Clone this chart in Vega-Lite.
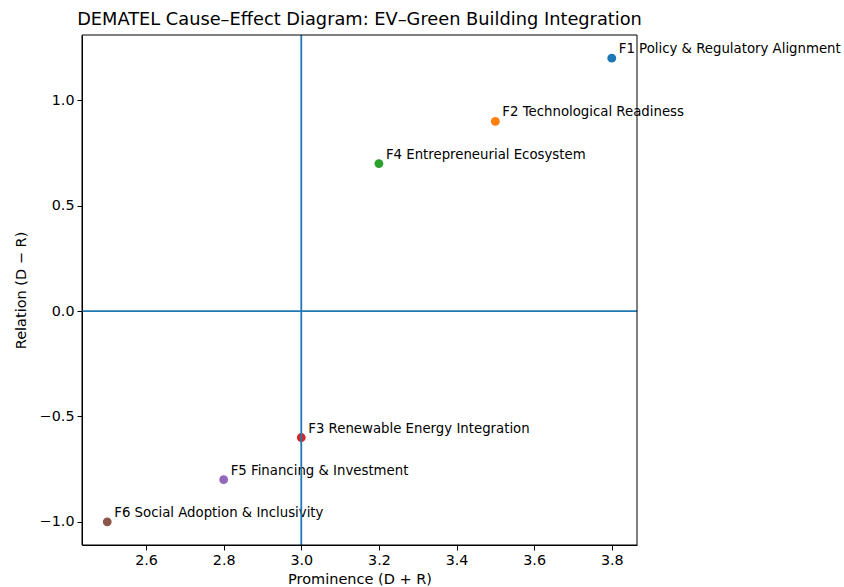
{
  "$schema": "https://vega.github.io/schema/vega-lite/v6.json",
  "width": 555,
  "height": 510,
  "autosize": "none",
  "padding": {"left": 82, "top": 35, "right": 207, "bottom": 42},
  "background": "white",
  "config": {
    "font": "DejaVu Sans",
    "view": {"stroke": null},
    "axis": {
      "grid": false,
      "domainColor": "black",
      "tickColor": "black",
      "tickSize": 5,
      "labelFontSize": 14.3,
      "labelColor": "black",
      "titleFontSize": 14.5,
      "titleFontWeight": "normal",
      "titleColor": "black",
      "labelFont": "DejaVu Sans",
      "titleFont": "DejaVu Sans",
      "labelPadding": 3
    }
  },
  "title": {
    "text": "DEMATEL Cause–Effect Diagram: EV–Green Building Integration",
    "font": "DejaVu Sans",
    "fontSize": 17.8,
    "fontWeight": "normal",
    "color": "black",
    "anchor": "middle",
    "offset": 5
  },
  "datasets": {
    "factors": [
      {"label": "F1 Policy & Regulatory Alignment", "code": "F1", "prominence": 3.8, "relation": 1.2},
      {"label": "F2 Technological Readiness", "code": "F2", "prominence": 3.5, "relation": 0.9},
      {"label": "F3 Renewable Energy Integration", "code": "F3", "prominence": 3.0, "relation": -0.6},
      {"label": "F4 Entrepreneurial Ecosystem", "code": "F4", "prominence": 3.2, "relation": 0.7},
      {"label": "F5 Financing & Investment", "code": "F5", "prominence": 2.8, "relation": -0.8},
      {"label": "F6 Social Adoption & Inclusivity", "code": "F6", "prominence": 2.5, "relation": -1.0}
    ]
  },
  "layer": [
    {
      "data": {"name": "factors"},
      "mark": {"type": "point", "filled": true, "opacity": 1, "size": 78, "shape": "circle"},
      "encoding": {
        "x": {
          "field": "prominence", "type": "quantitative",
          "scale": {"domain": [2.435, 3.865], "nice": false, "zero": false},
          "axis": {"title": "Prominence (D + R)", "values": [2.6, 2.8, 3.0, 3.2, 3.4, 3.6, 3.8], "format": ".1f", "titlePadding": 5}
        },
        "y": {
          "field": "relation", "type": "quantitative",
          "scale": {"domain": [-1.11, 1.31], "nice": false, "zero": false},
          "axis": {"title": "Relation (D − R)", "values": [-1.0, -0.5, 0.0, 0.5, 1.0], "format": ".1f", "titlePadding": 11}
        },
        "color": {
          "field": "code", "type": "nominal",
          "scale": {"domain": ["F1", "F2", "F3", "F4", "F5", "F6"], "range": ["#1f77b4", "#ff7f0e", "#d62728", "#2ca02c", "#9467bd", "#8c564b"]},
          "legend": null
        }
      }
    },
    {
      "data": {"name": "factors"},
      "mark": {"type": "text", "align": "left", "baseline": "alphabetic", "dx": 7, "dy": -5, "fontSize": 13.3, "color": "black", "font": "DejaVu Sans"},
      "encoding": {
        "x": {"field": "prominence", "type": "quantitative"},
        "y": {"field": "relation", "type": "quantitative"},
        "text": {"field": "label"}
      }
    },
    {
      "data": {"values": [{"x0": 3.0}]},
      "mark": {"type": "rule", "color": "#1f77b4", "strokeWidth": 1.8},
      "encoding": {"x": {"field": "x0", "type": "quantitative"}}
    },
    {
      "data": {"values": [{"y0": 0.0}]},
      "mark": {"type": "rule", "color": "#1f77b4", "strokeWidth": 1.8},
      "encoding": {"y": {"field": "y0", "type": "quantitative"}}
    },
    {
      "data": {"values": [{"xa": 2.435, "xb": 3.865, "ya": -1.11, "yb": 1.31}]},
      "mark": {"type": "rect", "fill": null, "stroke": "black", "strokeWidth": 1},
      "encoding": {
        "x": {"field": "xa", "type": "quantitative"},
        "x2": {"field": "xb"},
        "y": {"field": "ya", "type": "quantitative"},
        "y2": {"field": "yb"}
      }
    }
  ]
}
